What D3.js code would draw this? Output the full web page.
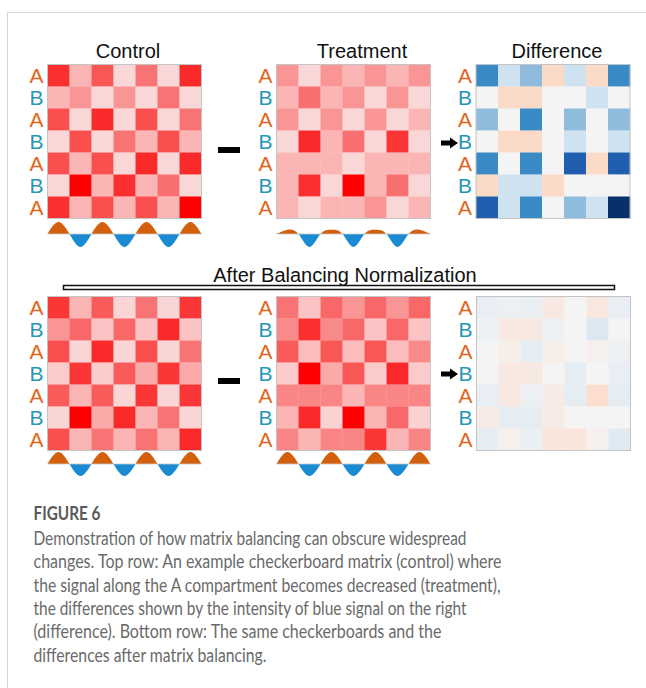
<!DOCTYPE html>
<html>
<head>
<meta charset="utf-8">
<script src="https://cdn.jsdelivr.net/npm/d3@7"></script>
<style>
  html, body { margin: 0; padding: 0; background: #fff; }
  svg { display: block; }
</style>
</head>
<body>
<svg id="fig" width="646" height="688"></svg>
<script>
// ---- data ---------------------------------------------------------------
const rowLabels = ["A", "B", "A", "B", "A", "B", "A"];

// contact intensities (0 = faint, 1 = strongest)
const controlTop = [
  [0.88, 0.30, 0.72, 0.06, 0.60, 0.06, 0.90],
  [0.30, 0.45, 0.06, 0.45, 0.06, 0.60, 0.06],
  [0.75, 0.06, 0.90, 0.06, 0.75, 0.06, 0.60],
  [0.06, 0.75, 0.06, 0.60, 0.30, 0.75, 0.30],
  [0.75, 0.30, 0.75, 0.06, 0.90, 0.06, 0.90],
  [0.06, 1.00, 0.30, 0.88, 0.30, 0.62, 0.06],
  [0.88, 0.30, 0.75, 0.30, 0.75, 0.30, 1.00]
];
const treatmentTop = [
  [0.45, 0.06, 0.45, 0.30, 0.45, 0.30, 0.45],
  [0.30, 0.62, 0.30, 0.45, 0.06, 0.45, 0.06],
  [0.45, 0.06, 0.45, 0.06, 0.45, 0.06, 0.30],
  [0.06, 0.90, 0.30, 0.62, 0.06, 0.85, 0.06],
  [0.30, 0.30, 0.30, 0.06, 0.30, 0.30, 0.30],
  [0.30, 0.88, 0.06, 1.00, 0.30, 0.62, 0.06],
  [0.30, 0.06, 0.30, 0.30, 0.45, 0.06, 0.30]
];
// treatment minus control
const differenceTop = [
  [-0.50, -0.15, -0.30,  0.12, -0.15,  0.12, -0.50],
  [ 0.00,  0.12,  0.12,  0.00,  0.00, -0.15,  0.00],
  [-0.30,  0.00, -0.50,  0.00, -0.30,  0.00, -0.30],
  [ 0.00,  0.12,  0.12,  0.00, -0.15,  0.00, -0.15],
  [-0.50,  0.00, -0.50,  0.00, -0.70,  0.12, -0.70],
  [ 0.12, -0.15, -0.15,  0.12,  0.00,  0.00,  0.00],
  [-0.70, -0.15, -0.50,  0.00, -0.30, -0.15, -1.00]
];
const controlBottom = [
  [0.85, 0.30, 0.70, 0.08, 0.60, 0.08, 0.85],
  [0.45, 0.65, 0.20, 0.65, 0.20, 0.90, 0.20],
  [0.75, 0.08, 0.90, 0.08, 0.75, 0.08, 0.60],
  [0.15, 0.85, 0.15, 0.70, 0.35, 0.85, 0.35],
  [0.70, 0.30, 0.70, 0.08, 0.85, 0.08, 0.85],
  [0.08, 1.00, 0.35, 0.90, 0.30, 0.60, 0.08],
  [0.75, 0.30, 0.60, 0.30, 0.60, 0.30, 0.90]
];
const treatmentBottom = [
  [0.60, 0.20, 0.65, 0.45, 0.65, 0.45, 0.65],
  [0.50, 0.88, 0.50, 0.65, 0.20, 0.65, 0.20],
  [0.70, 0.25, 0.72, 0.25, 0.72, 0.25, 0.50],
  [0.15, 1.00, 0.35, 0.72, 0.15, 0.90, 0.15],
  [0.52, 0.52, 0.52, 0.30, 0.52, 0.52, 0.52],
  [0.30, 0.90, 0.10, 1.00, 0.30, 0.65, 0.10],
  [0.52, 0.30, 0.52, 0.52, 0.85, 0.30, 0.52]
];
const differenceBottom = [
  [-0.05, -0.03, -0.04,  0.05,  0.00,  0.06, -0.05],
  [-0.03,  0.05,  0.05, -0.03,  0.00, -0.10,  0.00],
  [ 0.00,  0.03, -0.06,  0.03,  0.00,  0.02, -0.03],
  [ 0.00,  0.05,  0.05,  0.00, -0.06,  0.00, -0.05],
  [-0.05,  0.05, -0.03,  0.04, -0.06,  0.10, -0.06],
  [ 0.04, -0.06, -0.06,  0.04,  0.00,  0.00,  0.00],
  [-0.06,  0.02, -0.04,  0.07,  0.07,  0.02, -0.08]
];

// compartment eigenvector track, one value per bin (A positive, B negative)
const trackControlTop     = [1.00, -1.08, 1.00, -1.08, 1.00, -1.08, 1.00];
const trackTreatmentTop   = [0.36, -1.08, 0.36, -1.08, 0.36, -1.08, 0.36];
const trackControlBottom  = [1.00, -1.00, 1.00, -1.00, 1.00, -1.00, 1.00];
const trackTreatmentBottom= [1.00, -1.00, 1.00, -1.00, 1.00, -1.00, 1.00];

const panelTitles = ["Control", "Treatment", "Difference"];
const sectionTitle = "After Balancing Normalization";
const captionTitle = "FIGURE 6";
const captionLines = [
  "Demonstration of how matrix balancing can obscure widespread",
  "changes. Top row: An example checkerboard matrix (control) where",
  "the signal along the A compartment becomes decreased (treatment),",
  "the differences shown by the intensity of blue signal on the right",
  "(difference). Bottom row: The same checkerboards and the",
  "differences after matrix balancing."
];

// ---- scales ---------------------------------------------------------------
const redScale = d3.scaleLinear()
  .domain([0, 0.3, 0.6, 0.9, 1])
  .range(["#fae0e0", "#fbb5b5", "#f87474", "#fa2a2a", "#ff0000"])
  .clamp(true);
const divScale = d3.scaleLinear()
  .domain([-1, -0.7, -0.5, -0.3, -0.15, 0, 0.12])
  .range(["#08306b", "#1f5fae", "#3a8ac6", "#8fbcdc", "#cfe2f0", "#f4f4f4", "#fcdac8"])
  .clamp(true);

const ORANGE = "#e0661c", TEAL = "#2596b4";
const svg = d3.select("#fig");

// page frame
svg.append("line").attr("x1", 7.5).attr("x2", 646).attr("y1", 12.5).attr("y2", 12.5)
  .attr("stroke", "#d4d4d4").attr("stroke-width", 1);
svg.append("line").attr("x1", 7.5).attr("x2", 7.5).attr("y1", 12.5).attr("y2", 688)
  .attr("stroke", "#d4d4d4").attr("stroke-width", 1);

const SIZE = 154;
const idx = d3.range(7);

function drawMatrix(x0, y0, data, color) {
  const x = d3.scaleBand().domain(idx).range([x0, x0 + SIZE]);
  const y = d3.scaleBand().domain(idx).range([y0, y0 + SIZE]);
  const g = svg.append("g");
  data.forEach((row, r) => {
    g.selectAll(null).data(row).join("rect")
      .attr("x", (d, c) => x(c)).attr("y", y(r))
      .attr("width", x.bandwidth() + 0.3).attr("height", y.bandwidth() + 0.3)
      .attr("fill", d => color(d));
  });
  g.append("rect").attr("x", x0).attr("y", y0).attr("width", SIZE).attr("height", SIZE)
    .attr("fill", "none").attr("stroke", "#c4c4c4").attr("stroke-width", 1);
  // compartment labels
  g.selectAll("text.lab").data(rowLabels).join("text")
    .attr("class", "lab")
    .attr("x", x0 - 11).attr("y", (d, i) => y(i) + y.bandwidth() / 2 + 7.5)
    .attr("text-anchor", "middle")
    .attr("font-family", "'Liberation Sans', Arial, sans-serif")
    .attr("font-size", 21)
    .attr("fill", d => d === "A" ? ORANGE : TEAL)
    .text(d => d);
  return y;
}

let clipId = 0;
function drawTrack(x0, baseY, values) {
  const pts = [{ p: 0, v: 0 }];
  values.forEach((v, i) => { pts.push({ p: i + 0.5, v }); pts.push({ p: i + 1, v: 0 }); });
  const x = d3.scaleLinear().domain([0, 7]).range([x0, x0 + SIZE]);
  const y = d3.scaleLinear().domain([-1, 1]).range([baseY + 12, baseY - 12]);
  const area = d3.area().x(d => x(d.p)).y0(y(0)).y1(d => y(d.v)).curve(d3.curveNatural);
  const g = svg.append("g");
  const up = "clipU" + clipId, dn = "clipD" + clipId; clipId++;
  const defs = g.append("defs");
  defs.append("clipPath").attr("id", up).append("rect")
    .attr("x", x0 - 2).attr("y", y(0) - 30).attr("width", SIZE + 4).attr("height", 30);
  defs.append("clipPath").attr("id", dn).append("rect")
    .attr("x", x0 - 2).attr("y", y(0)).attr("width", SIZE + 4).attr("height", 30);
  g.append("path").datum(pts).attr("d", area).attr("fill", "#d2600c").attr("clip-path", `url(#${up})`);
  g.append("path").datum(pts).attr("d", area).attr("fill", "#1a8bd3").attr("clip-path", `url(#${dn})`);
  g.append("line").attr("x1", x0).attr("x2", x0 + SIZE).attr("y1", y(0)).attr("y2", y(0))
    .attr("stroke", "#c8c8c8").attr("stroke-width", 0.8);
}

function minus(cx, cy) {
  svg.append("rect").attr("x", cx - 11).attr("y", cy - 3).attr("width", 22).attr("height", 6).attr("fill", "#000");
}
function arrow(x0, cy) {
  const p = d3.path();
  p.moveTo(x0, cy - 2.5); p.lineTo(x0 + 9, cy - 2.5); p.lineTo(x0 + 9, cy - 5.5);
  p.lineTo(x0 + 17, cy); p.lineTo(x0 + 9, cy + 5.5); p.lineTo(x0 + 9, cy + 2.5);
  p.lineTo(x0, cy + 2.5); p.closePath();
  svg.append("path").attr("d", p.toString()).attr("fill", "#000");
}

// ---- top row --------------------------------------------------------------
const titleFont = "'Liberation Sans', Arial, sans-serif";
const titleX = [128, 362, 557];
panelTitles.forEach((t, i) => {
  svg.append("text").attr("x", titleX[i]).attr("y", 58).attr("text-anchor", "middle")
    .attr("font-family", titleFont).attr("font-size", 20).attr("fill", "#111").text(t);
});

drawMatrix(47.5, 64.5, controlTop, redScale);
drawMatrix(276.5, 64.5, treatmentTop, redScale);
drawMatrix(476, 64.5, differenceTop, divScale);
drawTrack(47.5, 234, trackControlTop);
drawTrack(276.5, 234, trackTreatmentTop);
minus(229, 150);
arrow(441, 143);

// ---- bottom row -----------------------------------------------------------
svg.append("text").attr("x", 345).attr("y", 282).attr("text-anchor", "middle")
  .attr("font-family", titleFont).attr("font-size", 20).attr("fill", "#111").text(sectionTitle);
svg.append("rect").attr("x", 63.5).attr("y", 285.5).attr("width", 551).attr("height", 4)
  .attr("fill", "#fff").attr("stroke", "#111").attr("stroke-width", 1.5);

drawMatrix(47.5, 296.5, controlBottom, redScale);
drawMatrix(276.5, 296.5, treatmentBottom, redScale);
drawMatrix(476.5, 296.5, differenceBottom, divScale);
drawTrack(47.5, 464, trackControlBottom);
drawTrack(276.5, 464, trackTreatmentBottom);
minus(229, 381);
arrow(441, 374);

// ---- caption --------------------------------------------------------------
const capFont = "Lato, 'Open Sans', sans-serif";
svg.append("text").attr("x", 33.5).attr("y", 520)
  .attr("font-family", capFont).attr("font-weight", 700).attr("font-size", 18.5)
  .attr("fill", "#5a5a5a").attr("textLength", 67).attr("lengthAdjust", "spacingAndGlyphs")
  .text(captionTitle);
const lineWidths = [433, 468, 467, 433, 408, 233];
captionLines.forEach((t, i) => {
  svg.append("text").attr("x", 33.5).attr("y", 545 + i * 23.33)
    .attr("font-family", capFont).attr("font-size", 18.5).attr("fill", "#6a6a6a")
    .attr("textLength", lineWidths[i]).attr("lengthAdjust", "spacingAndGlyphs")
    .text(t);
});
</script>
</body>
</html>
